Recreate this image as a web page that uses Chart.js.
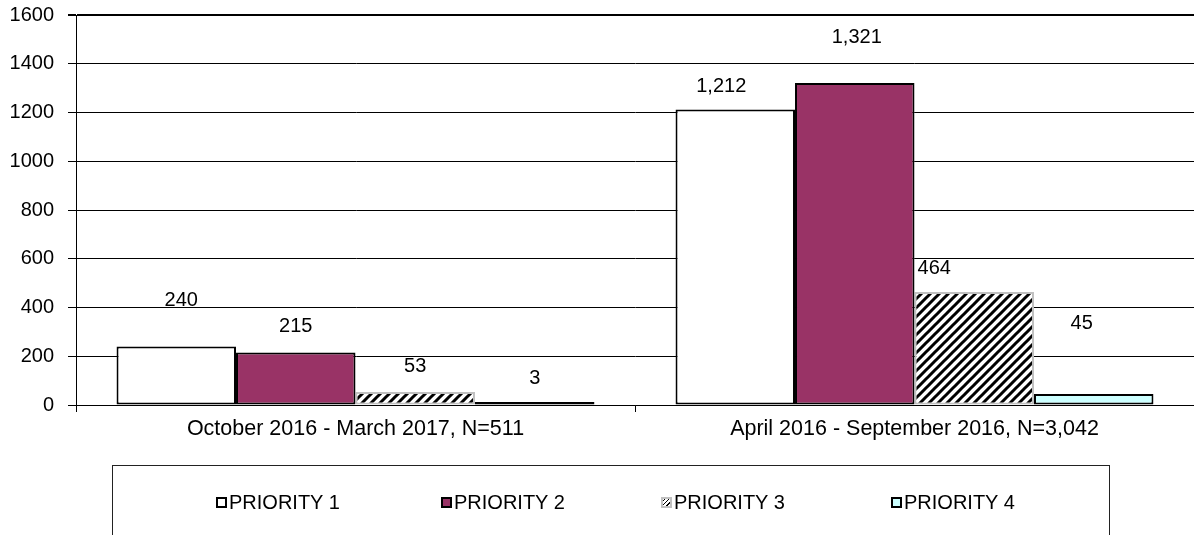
<!DOCTYPE html>
<html lang="en">
<head>
<meta charset="UTF-8">
<title>Priority counts</title>
<script src="https://cdn.jsdelivr.net/npm/chart.js"></script>
<style>
  body { margin: 0; background: #fff; overflow: hidden; }
  #wrap { position: relative; width: 1194px; height: 535px; }
  #legend {
    position: absolute; left: 112px; top: 465px; width: 998px; height: 100px;
    border: 1px solid #222; box-sizing: border-box;
    font: 20px "Liberation Sans", Arial, sans-serif; color: #000;
  }
  .item { position: absolute; top: 25px; display: flex; align-items: center; white-space: nowrap; }
  .box { width: 7px; height: 7px; border: 2px solid #000; margin-right: 2px; }
</style>
</head>
<body>
<div id="wrap">
  <canvas id="chart" width="1194" height="535"></canvas>
  <div id="legend"></div>
</div>
<script>
const categories = ['October 2016 - March 2017, N=511', 'April 2016 - September 2016, N=3,042'];
const seriesNames = ['PRIORITY 1', 'PRIORITY 2', 'PRIORITY 3', 'PRIORITY 4'];
const priority1 = [240, 1212];
const priority2 = [215, 1321];
const priority3 = [53, 464];
const priority4 = [3, 45];
const yMin = 0, yMax = 1600, yStep = 200;

// label nudges [dx, dy] from the bar top, per series / category (Excel placed them unevenly)
const labelShift = [
  [[5, -46], [-14, -23]],
  [[0, -26], [2, -46]],
  [[0, -26], [-40, -23]],
  [[0, -24], [-12, -71]]
];

function hatch() {
  const c = document.createElement('canvas');
  c.width = 9; c.height = 9;
  const g = c.getContext('2d');
  g.fillStyle = '#fff';
  g.fillRect(0, 0, 9, 9);
  g.strokeStyle = '#000';
  g.lineWidth = 3;
  g.beginPath();
  g.moveTo(-2, 11); g.lineTo(11, -2);
  g.moveTo(-2, 2); g.lineTo(2, -2);
  g.moveTo(7, 11); g.lineTo(11, 7);
  g.stroke();
  return g.createPattern(c, 'repeat');
}

Chart.defaults.font.family = '"Liberation Sans", Arial, sans-serif';
Chart.defaults.font.size = 20;
Chart.defaults.color = '#000';

const fills = ['#ffffff', '#993366', hatch(), '#ccffff'];
const borders = ['#000000', '#000000', '#c0c0c0', '#000000'];
const values = [priority1, priority2, priority3, priority4];

const valueLabels = {
  id: 'valueLabels',
  afterDatasetsDraw(chart) {
    const ctx = chart.ctx;
    ctx.save();
    ctx.font = '20px "Liberation Sans", Arial, sans-serif';
    ctx.fillStyle = '#000';
    ctx.textAlign = 'center';
    ctx.textBaseline = 'middle';
    chart.data.datasets.forEach((ds, i) => {
      chart.getDatasetMeta(i).data.forEach((bar, j) => {
        const [dx, dy] = labelShift[i][j];
        ctx.fillText(ds.data[j].toLocaleString('en-US'), bar.x + dx, bar.y + dy);
      });
    });
    ctx.restore();
  }
};

new Chart(document.getElementById('chart'), {
  type: 'bar',
  data: {
    labels: categories,
    datasets: seriesNames.map((name, i) => ({
      label: name,
      data: values[i],
      backgroundColor: fills[i],
      borderColor: borders[i],
      borderWidth: 2,
      borderSkipped: false,
      minBarLength: 3,
      categoryPercentage: 0.855,
      barPercentage: 1
    }))
  },
  options: {
    responsive: false,
    animation: false,
    layout: { padding: { top: 15, right: 0, left: 0, bottom: 0 } },
    plugins: { legend: { display: false }, tooltip: { enabled: false } },
    scales: {
      x: {
        afterFit(scale) { scale.height = 130; },
        grid: { offset: true, drawOnChartArea: false, tickLength: 7, color: '#000' },
        border: { color: '#000' },
        ticks: { padding: 4, font: { size: 21.5 } }
      },
      y: {
        min: yMin, max: yMax,
        afterFit(scale) {
          scale.width = 76;
          scale.paddingTop = 0;
          scale.paddingBottom = 0;
        },
        grid: {
          color: '#000', tickLength: 8,
          lineWidth: ctx => (ctx.tick && ctx.tick.value === yMax ? 2 : 1)
        },
        border: { color: '#000', width: 1 },
        ticks: { stepSize: yStep, padding: 14, callback: v => String(v) }
      }
    }
  },
  plugins: [valueLabels]
});

// legend drawn as html below the plot
const legendLeft = [103, 328, 548, 778];
const legend = document.getElementById('legend');
seriesNames.forEach((name, i) => {
  const item = document.createElement('div');
  item.className = 'item';
  item.style.left = legendLeft[i] + 'px';
  const box = document.createElement('span');
  box.className = 'box';
  box.style.borderColor = borders[i];
  box.style.background = i === 2
    ? 'repeating-linear-gradient(-45deg, #fff 0 2px, #000 2px 3px)'
    : fills[i];
  item.appendChild(box);
  item.appendChild(document.createTextNode(name));
  legend.appendChild(item);
});
</script>
</body>
</html>
